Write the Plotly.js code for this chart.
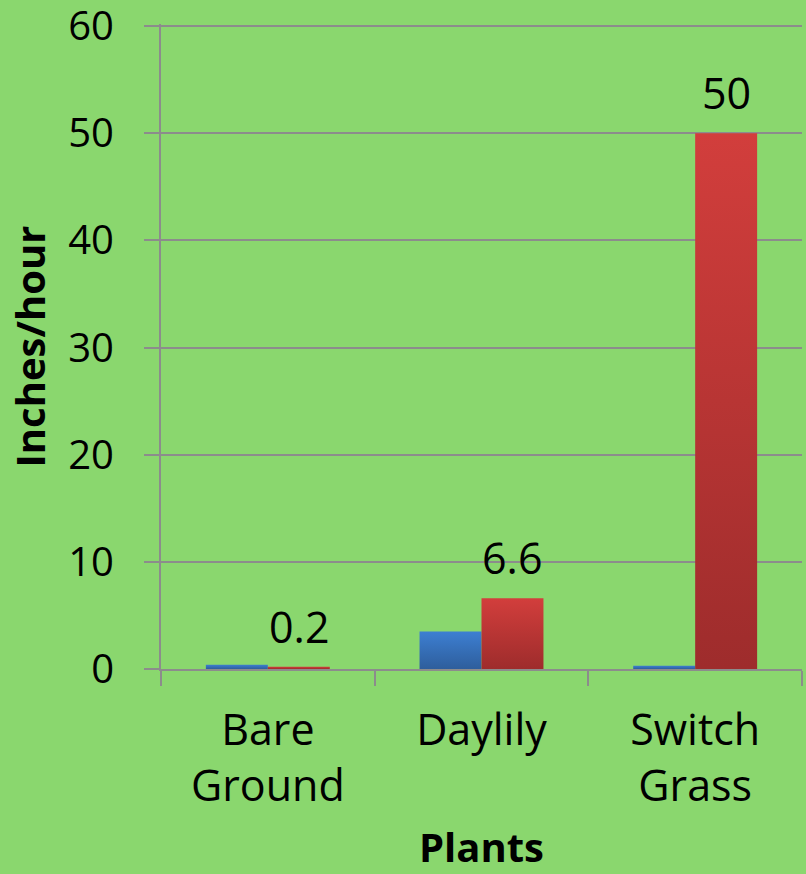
<!DOCTYPE html>
<html>
<head>
<meta charset="utf-8">
<script src="https://cdn.plot.ly/plotly-3.0.1.min.js"></script>
<style>
  html, body { margin: 0; padding: 0; background: #8AD76E; }
  #chart { width: 806px; height: 874px; }
</style>
</head>
<body>
<div id="chart"></div>
<script>
const categories = ["Bare<br>Ground", "Daylily", "Switch<br>Grass"];
const blueValues = [0.4, 3.5, 0.3];
const redValues = [0.2, 6.6, 50];
const redLabels = ["0.2", "6.6", "50"];
const yTicks = [0, 10, 20, 30, 40, 50, 60];

const FONT = "Open Sans, Noto Sans, sans-serif";
const GRID = "#8c8c8c";
const W = 806, H = 874;
const M = { l: 161, r: 4, t: 24, b: 205 };
const BARGAP = 0.42;

// horizontal offset of the red bar centre from its category centre (derived from layout)
const plotW = W - M.l - M.r;
const redShift = plotW / categories.length * (1 - BARGAP) / 4;

const traces = [
  {
    type: "bar", x: categories, y: blueValues, name: "Series 1",
    marker: { color: "#3673c0" }, hoverinfo: "none"
  },
  {
    type: "bar", x: categories, y: redValues, name: "Series 2",
    marker: { color: "#b83434" }, hoverinfo: "none"
  }
];

const annotations = categories.map(function (c, i) {
  return {
    x: c, y: redValues[i], xref: "x", yref: "y",
    text: redLabels[i], showarrow: false,
    xanchor: "center", yanchor: "bottom",
    xshift: redShift, yshift: 9,
    font: { family: FONT, size: 43, color: "#000" }
  };
});

const layout = {
  width: W, height: H,
  paper_bgcolor: "#8AD76E", plot_bgcolor: "#8AD76E",
  margin: M,
  showlegend: false,
  barmode: "group", bargap: BARGAP, bargroupgap: 0,
  font: { family: FONT, color: "#000" },
  annotations: annotations,
  xaxis: {
    type: "category", tickson: "boundaries",
    ticks: "outside", ticklen: 15, tickwidth: 2, tickcolor: GRID,
    showline: true, linecolor: GRID, linewidth: 2,
    showgrid: false,
    ticklabelstandoff: 22, ticklabeloverflow: "allow",
    tickfont: { family: FONT, size: 43, color: "#000" },
    title: { text: "<b>Plants</b>", font: { family: FONT, size: 40, color: "#000" }, standoff: 36 }
  },
  yaxis: {
    range: [0, 60.2], tickvals: yTicks, ticktext: yTicks.map(String),
    ticks: "outside", ticklen: 15, tickwidth: 2, tickcolor: GRID,
    showline: true, linecolor: GRID, linewidth: 2,
    showgrid: true, gridcolor: GRID, gridwidth: 2, zeroline: false,
    ticklabelstandoff: 22, ticklabeloverflow: "allow",
    tickfont: { family: FONT, size: 40, color: "#000" },
    title: { text: "<b>Inches/hour</b>", font: { family: FONT, size: 40, color: "#000" }, standoff: 10 }
  }
};

Plotly.newPlot("chart", traces, layout, { displayModeBar: false, staticPlot: true }).then(function (gd) {
  const svg = gd.querySelector(".main-svg");
  const ns = "http://www.w3.org/2000/svg";
  let defs = svg.querySelector("defs");
  if (!defs) { defs = document.createElementNS(ns, "defs"); svg.insertBefore(defs, svg.firstChild); }
  function grad(id, top, bottom) {
    const g = document.createElementNS(ns, "linearGradient");
    g.setAttribute("id", id);
    g.setAttribute("x1", "0"); g.setAttribute("y1", "0");
    g.setAttribute("x2", "0"); g.setAttribute("y2", "1");
    [[0, top], [1, bottom]].forEach(function (s) {
      const st = document.createElementNS(ns, "stop");
      st.setAttribute("offset", s[0]);
      st.setAttribute("stop-color", s[1]);
      g.appendChild(st);
    });
    defs.appendChild(g);
  }
  grad("gBlue", "#3d7fd2", "#2e5e9c");
  grad("gRed", "#d23e3c", "#9e2c2c");
  const traceGroups = gd.querySelectorAll(".barlayer .trace");
  traceGroups.forEach(function (tg, i) {
    tg.querySelectorAll(".point path").forEach(function (p) {
      p.style.fill = i === 0 ? "url(#gBlue)" : "url(#gRed)";
    });
  });
});
</script>
</body>
</html>
